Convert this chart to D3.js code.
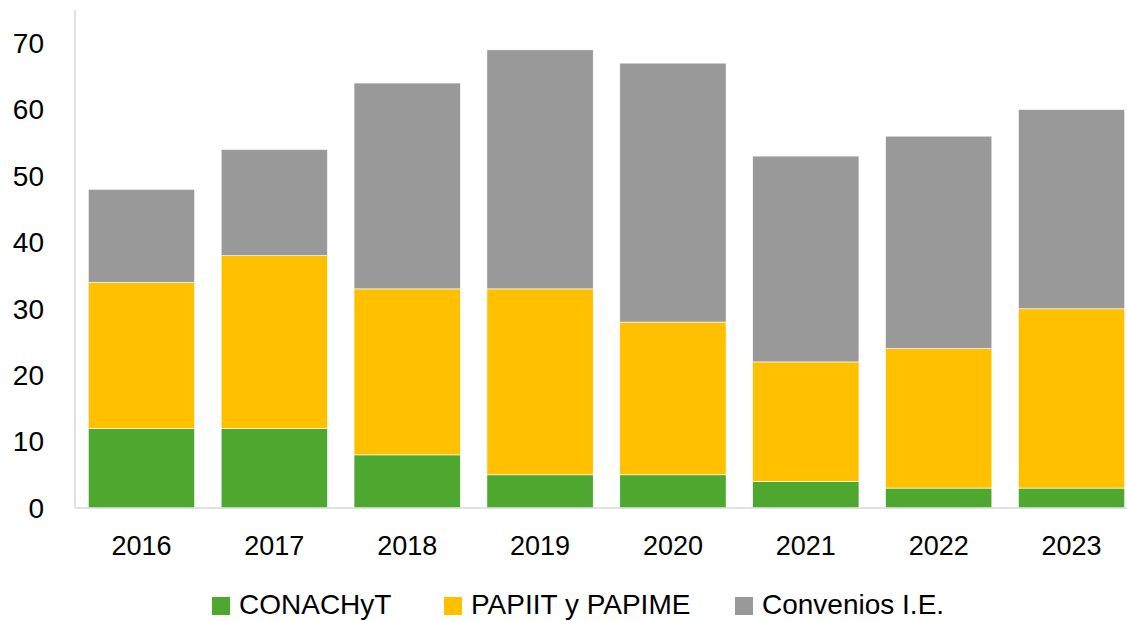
<!DOCTYPE html>
<html>
<head>
<meta charset="utf-8">
<script src="https://cdn.jsdelivr.net/npm/d3@7"></script>
<style>
  body { margin: 0; background: #fff; }
  svg text { font-family: "Liberation Sans", Arial, sans-serif; fill: #000; }
</style>
</head>
<body>
<svg id="chart" width="1127" height="621"></svg>
<script>
const years = ['2016', '2017', '2018', '2019', '2020', '2021', '2022', '2023'];
const conachyt = [12, 12, 8, 5, 5, 4, 3, 3];
const papiit = [22, 26, 25, 28, 23, 18, 21, 27];
const convenios = [14, 16, 31, 36, 39, 31, 32, 30];
const seriesNames = ['CONACHyT', 'PAPIIT y PAPIME', 'Convenios I.E.'];
const seriesColors = ['#4ea72e', '#ffc000', '#999999'];
const yTicks = [0, 10, 20, 30, 40, 50, 60, 70];

const svg = d3.select('#chart');

const rows = years.map((y, i) => ({
  year: y,
  s0: conachyt[i],
  s1: papiit[i],
  s2: convenios[i]
}));

const stacked = d3.stack().keys(['s0', 's1', 's2'])(rows);

const x = d3.scaleBand()
  .domain(years)
  .range([75, 1138])
  .paddingInner(0.2)
  .paddingOuter(0.1);

const y = d3.scaleLinear()
  .domain([0, 75])
  .range([508, 10]);

// Bars
svg.append('g')
  .selectAll('g')
  .data(stacked)
  .join('g')
  .attr('fill', (d, i) => seriesColors[i])
  .selectAll('rect')
  .data(d => d)
  .join('rect')
  .attr('x', d => x(d.data.year))
  .attr('y', d => y(d[1]))
  .attr('width', x.bandwidth())
  .attr('height', d => y(d[0]) - y(d[1]))
  .attr('stroke', '#fff')
  .attr('stroke-width', 0.6);

// Axis lines
svg.append('line')
  .attr('x1', 75).attr('x2', 75)
  .attr('y1', y(75)).attr('y2', y(0))
  .attr('stroke', '#d9d9d9').attr('stroke-width', 1.5);

svg.append('line')
  .attr('x1', 75).attr('x2', 1127)
  .attr('y1', y(0)).attr('y2', y(0))
  .attr('stroke', '#d9d9d9').attr('stroke-width', 1.5);

// Y tick labels
svg.append('g')
  .selectAll('text')
  .data(yTicks)
  .join('text')
  .attr('x', 44)
  .attr('y', d => y(d))
  .attr('dy', '0.35em')
  .attr('text-anchor', 'end')
  .attr('font-size', 28)
  .text(d => d);

// X labels
svg.append('g')
  .selectAll('text')
  .data(years)
  .join('text')
  .attr('x', d => x(d) + x.bandwidth() / 2)
  .attr('y', 546)
  .attr('dy', '0.35em')
  .attr('text-anchor', 'middle')
  .attr('font-size', 27)
  .text(d => d);

// Legend
const legendX = [212, 444, 735];
const legend = svg.append('g')
  .selectAll('g')
  .data(seriesNames)
  .join('g')
  .attr('transform', (d, i) => `translate(${legendX[i]},597)`);

legend.append('rect')
  .attr('width', 18)
  .attr('height', 18)
  .attr('fill', (d, i) => seriesColors[i]);

legend.append('text')
  .attr('x', 27)
  .attr('y', 17)
  .attr('font-size', 28)
  .text(d => d);
</script>
</body>
</html>
